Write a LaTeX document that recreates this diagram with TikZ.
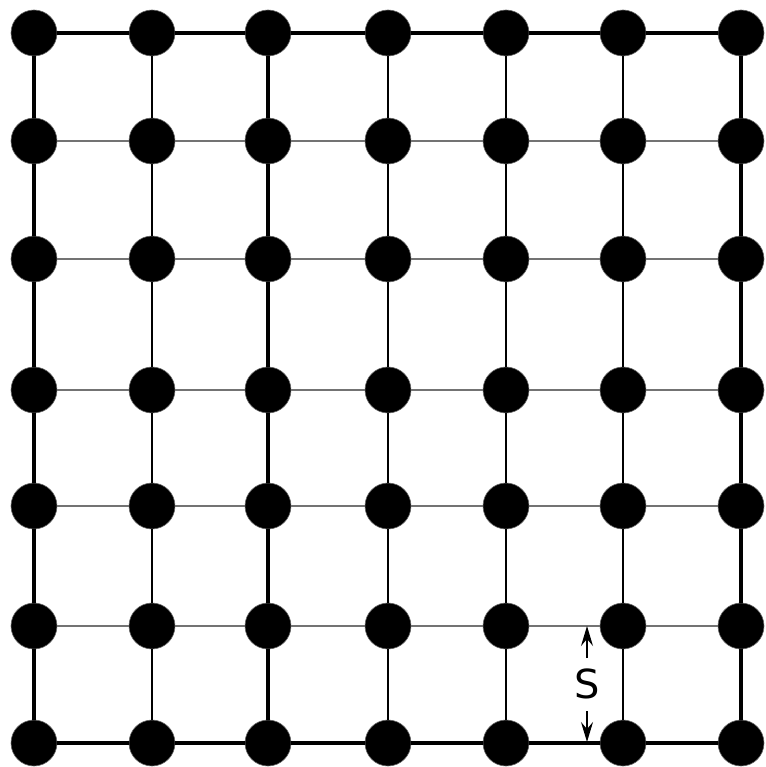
\documentclass[tikz,border=0pt]{standalone}
\usepackage{fontspec}
\setmainfont{DejaVu Sans}
\usetikzlibrary{arrows.meta}
\begin{document}
\begin{tikzpicture}[x=1pt,y=-1pt,
  dot/.style={circle,fill=black,draw=black!60,line width=0.6pt,minimum size=46pt,inner sep=0pt},
  frameline/.style={line width=4pt,black},
  thickcol/.style={line width=3.5pt,black},
  midcol/.style={line width=2.3pt,black},
  thincol/.style={line width=1.6pt,black},
  gridrow/.style={line width=1.6pt,black!55},
  dimarrow/.style={line width=1.3pt,-{Stealth[length=20pt,width=12pt,inset=7pt]}},
  lbl/.style={font=\fontsize{40}{40}\selectfont,inner sep=0pt}]
\useasboundingbox (0,0) rectangle (765,767);
\foreach \x [count=\j] in {34,152,268,388,506,623,741}{
  \foreach \y [count=\i] in {33,141,259,390,506,626,743}{
    \node[dot] (n-\i-\j) at (\x,\y) {};
  }}
% horizontal lines
\foreach \j [evaluate=\j as \k using int(\j+1)] in {1,...,6}{
  \draw[frameline] (n-1-\j) -- (n-1-\k);
  \draw[frameline] (n-7-\j) -- (n-7-\k);
  \foreach \i in {2,...,6}{
    \draw[gridrow] (n-\i-\j) -- (n-\i-\k);
  }}
% vertical lines
\foreach \i [evaluate=\i as \k using int(\i+1)] in {1,...,6}{
  \draw[frameline] (n-\i-1) -- (n-\k-1);
  \draw[frameline] (n-\i-7) -- (n-\k-7);
  \draw[thincol] (n-\i-2) -- (n-\k-2);
  \draw[thickcol] (n-\i-3) -- (n-\k-3);
  \draw[midcol] (n-\i-4) -- (n-\k-4);
  \draw[midcol] (n-\i-5) -- (n-\k-5);
  \draw[midcol] (n-\i-6) -- (n-\k-6);
}
% spacing label
\coordinate (s-top) at (587,626);
\coordinate (s-bot) at (587,742);
\coordinate (s-t1) at (587,658);
\coordinate (s-b1) at (587,711);
\node[lbl] (S) at (587,684) {S};
\draw[dimarrow] (s-t1) -- (s-top);
\draw[dimarrow] (s-b1) -- (s-bot);
\end{tikzpicture}
\end{document}
